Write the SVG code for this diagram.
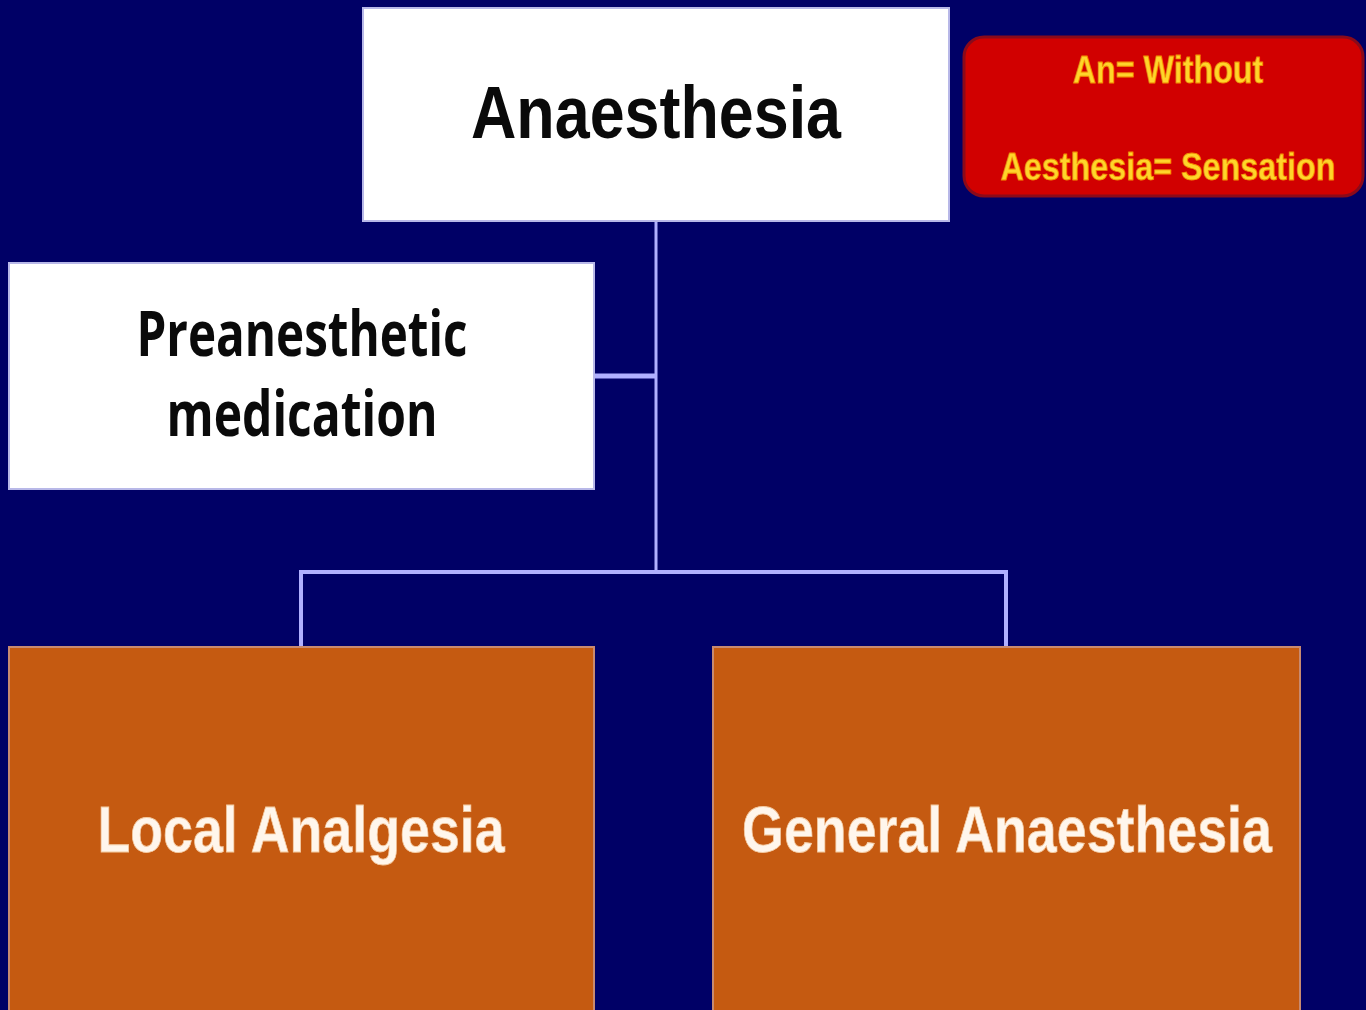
<svg xmlns="http://www.w3.org/2000/svg" width="1366" height="1010" viewBox="0 0 1366 1010">
<style>
.bg{fill:#000066}
.white{fill:#FFFFFF;stroke:#B8B8E8;stroke-width:2}
.orange{fill:#C55A11;stroke:#C88A70;stroke-width:2}
.red{fill:#D10000;stroke:#8A0A1A;stroke-width:3}
.conn{stroke:#B0B0FF;fill:none;stroke-linecap:butt}
.t-arial{font-family:"Liberation Sans",Arial,sans-serif;font-weight:bold}
.t-sans{font-family:"Open Sans","Noto Sans",sans-serif;font-weight:bold}
.dark{fill:#0A0A0A}
.light{fill:#FFF6EC;stroke:#F3C9A0;stroke-width:0.8}
.yellow{fill:#FFD52A;stroke:#F08A00;stroke-width:0.8}
</style>
<rect class="bg" x="0" y="0" width="1366" height="1010"/>
<g id="connectors">
<line class="conn" x1="656" y1="221" x2="656" y2="572" stroke-width="3"/>
<line class="conn" x1="594" y1="376" x2="656" y2="376" stroke-width="5" stroke="#9C9CFF"/>
<polyline class="conn" points="301,648 301,572 1006,572 1006,648" stroke-width="4"/>
</g>
<g id="anaesthesia">
<rect class="white" x="363" y="8" width="586" height="213"/>
<text class="t-arial dark" transform="translate(656,138) scale(0.849,1)" font-size="74" text-anchor="middle">Anaesthesia</text>
</g>
<g id="definition">
<rect class="red" x="964" y="37" width="399" height="159" rx="20"/>
<text class="t-arial yellow" transform="translate(1168,83) scale(0.828,1)" font-size="39" text-anchor="middle">An= Without</text>
<text class="t-arial yellow" transform="translate(1168,180) scale(0.829,1)" font-size="39" text-anchor="middle">Aesthesia= Sensation</text>
</g>
<g id="preanesthetic">
<rect class="white" x="9" y="263" width="585" height="226"/>
<text class="t-sans dark" x="302" y="356" font-size="62" text-anchor="middle" textLength="331" lengthAdjust="spacingAndGlyphs">Preanesthetic</text>
<text class="t-sans dark" x="302" y="436" font-size="62" text-anchor="middle" textLength="271" lengthAdjust="spacingAndGlyphs">medication</text>
</g>
<g id="local">
<rect class="orange" x="9" y="647" width="585" height="370"/>
<text class="t-arial light" transform="translate(301,852) scale(0.84,1)" font-size="64" text-anchor="middle">Local Analgesia</text>
</g>
<g id="general">
<rect class="orange" x="713" y="647" width="587" height="370"/>
<text class="t-arial light" transform="translate(1007,852) scale(0.84,1)" font-size="64" text-anchor="middle">General Anaesthesia</text>
</g>
</svg>
